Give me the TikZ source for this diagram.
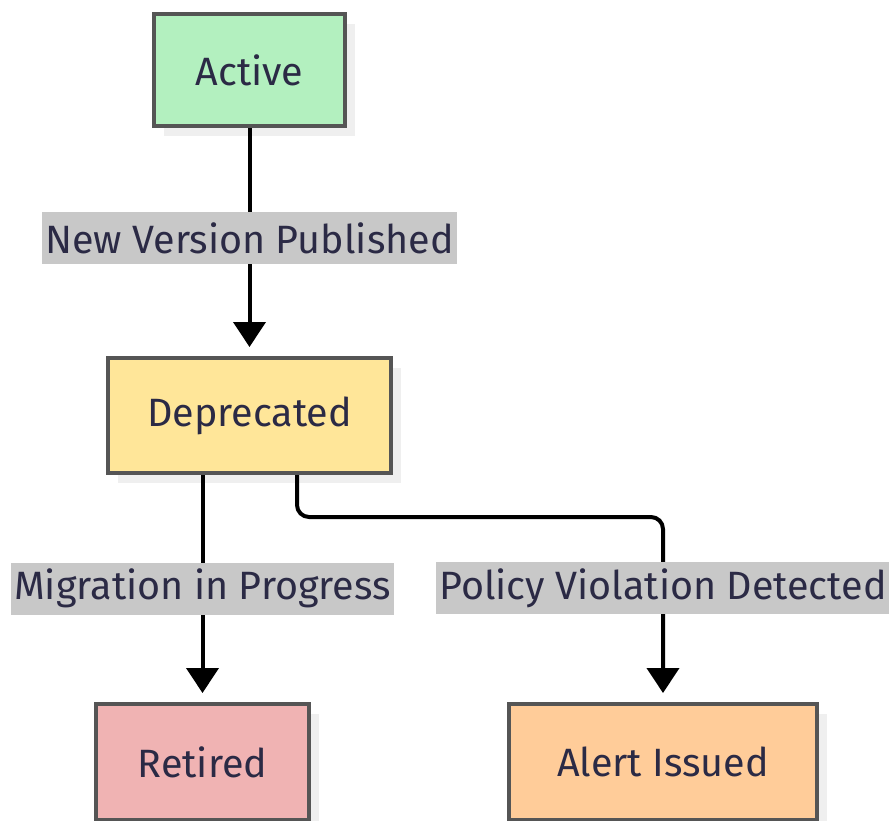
\documentclass[tikz,border=0pt]{standalone}
\usepackage{fontspec}
\setmainfont{Fira Sans}
\usetikzlibrary{arrows.meta,calc,shadows}
\definecolor{txt}{HTML}{2B2A45}
\definecolor{bord}{HTML}{555555}
\definecolor{shad}{HTML}{EFEFEF}
\definecolor{lblbg}{HTML}{C8C8C8}
\definecolor{cact}{HTML}{B3F0BF}
\definecolor{cdep}{HTML}{FFE699}
\definecolor{cret}{HTML}{F0B3B3}
\definecolor{calt}{HTML}{FFCC99}
\tikzset{
  state/.style={draw=bord, line width=4pt, inner sep=0pt, text=txt,
    font=\fontsize{39.5}{46}\selectfont,
    drop shadow={shadow xshift=10pt, shadow yshift=-10pt, fill=shad, opacity=1}},
  elabel/.style={fill=lblbg, text=txt, inner xsep=3pt, inner ysep=0pt,
    minimum height=52pt, font=\fontsize{39.5}{46}\selectfont},
  flow/.style={line width=4pt, black, -{Triangle[width=32pt,length=25pt]}},
}
\begin{document}
\begin{tikzpicture}[x=1pt,y=-1pt]
\useasboundingbox (0,0) rectangle (889,820);
\node[state, fill=cact, minimum width=191pt, minimum height=112pt] (act) at (249.5,70) {Active};
\node[state, fill=cdep, minimum width=283pt, minimum height=115pt] (dep) at (249.5,415.5) {Deprecated};
\node[state, fill=cret, minimum width=213pt, minimum height=116pt] (ret) at (202.5,762) {Retired};
\node[state, fill=calt, minimum width=308pt, minimum height=116pt] (alt) at (663,762) {Alert Issued};
\coordinate (depr) at (297,0);
\coordinate (bend) at (297,517);
\coordinate (bend2) at (663,517);
\draw[flow, shorten >=9pt] (act.south) -- (dep.north)
  node[elabel, pos=0.5, yshift=4pt] (l1) {New Version Published};
\draw[flow, shorten >=9pt] (dep.south -| ret.north) -- (ret.north)
  node[elabel, pos=0.5] (l2) {Migration in Progress};
\draw[flow, shorten >=9pt, rounded corners=12pt] (dep.south -| depr) -- (bend) -- (bend2) -- (alt.north);
\node[elabel] (l3) at (663,588) {Policy Violation Detected};
\end{tikzpicture}
\end{document}
